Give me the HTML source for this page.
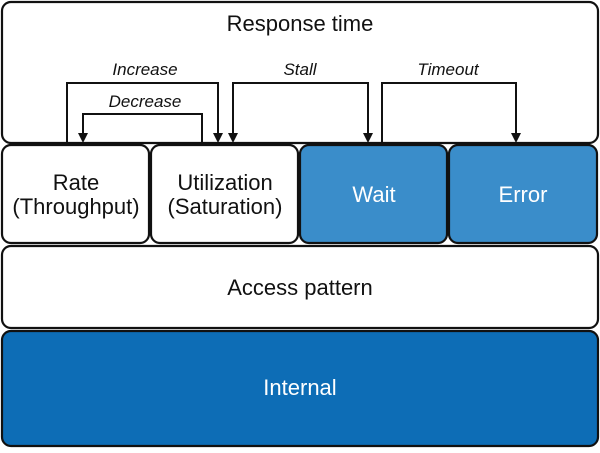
<!DOCTYPE html>
<html><head><style>
body{margin:0;width:600px;height:448px;background:#fff;font-family:"Liberation Sans",sans-serif;}
</style></head><body>
<svg width="600" height="448" xmlns="http://www.w3.org/2000/svg" font-family="Liberation Sans, sans-serif">
<g stroke="#111" stroke-width="2.2">
<rect x="2" y="2" width="596" height="141" rx="9" fill="#fff"/>
<rect x="2" y="145" width="147" height="98" rx="9" fill="#fff"/>
<rect x="151" y="145" width="147" height="98" rx="9" fill="#fff"/>
<rect x="300" y="145" width="147" height="98" rx="9" fill="#3a8dca"/>
<rect x="449" y="145" width="148" height="98" rx="9" fill="#3a8dca"/>
<rect x="2" y="246" width="596" height="82" rx="9" fill="#fff"/>
<rect x="2" y="331" width="596" height="115" rx="9" fill="#0d6db6"/>
</g>
<g stroke="#111" stroke-width="2" fill="none">
<path d="M67,143 V83 H218 V134"/>
<path d="M202,143 V114 H83 V134"/>
<path d="M233,134 V83 H368 V134"/>
<path d="M382,143 V83 H516 V134"/>
</g>
<g fill="#111">
<polygon points="213,133 223,133 218,143"/>
<polygon points="78,133 88,133 83,143"/>
<polygon points="228,133 238,133 233,143"/>
<polygon points="363,133 373,133 368,143"/>
<polygon points="511,133 521,133 516,143"/>
</g>
<g font-style="italic" font-size="17" fill="#111" text-anchor="middle">
<text x="145" y="75">Increase</text>
<text x="145" y="107">Decrease</text>
<text x="300" y="75">Stall</text>
<text x="448" y="75">Timeout</text>
</g>
<g font-size="22" fill="#111" text-anchor="middle">
<text x="300" y="31">Response time</text>
<text x="76" y="190">Rate</text>
<text x="76" y="214">(Throughput)</text>
<text x="225" y="190">Utilization</text>
<text x="225" y="214">(Saturation)</text>
<text x="374" y="202" fill="#fff">Wait</text>
<text x="523" y="202" fill="#fff">Error</text>
<text x="300" y="295">Access pattern</text>
<text x="300" y="395" fill="#fff">Internal</text>
</g>
</svg>
</body></html>
